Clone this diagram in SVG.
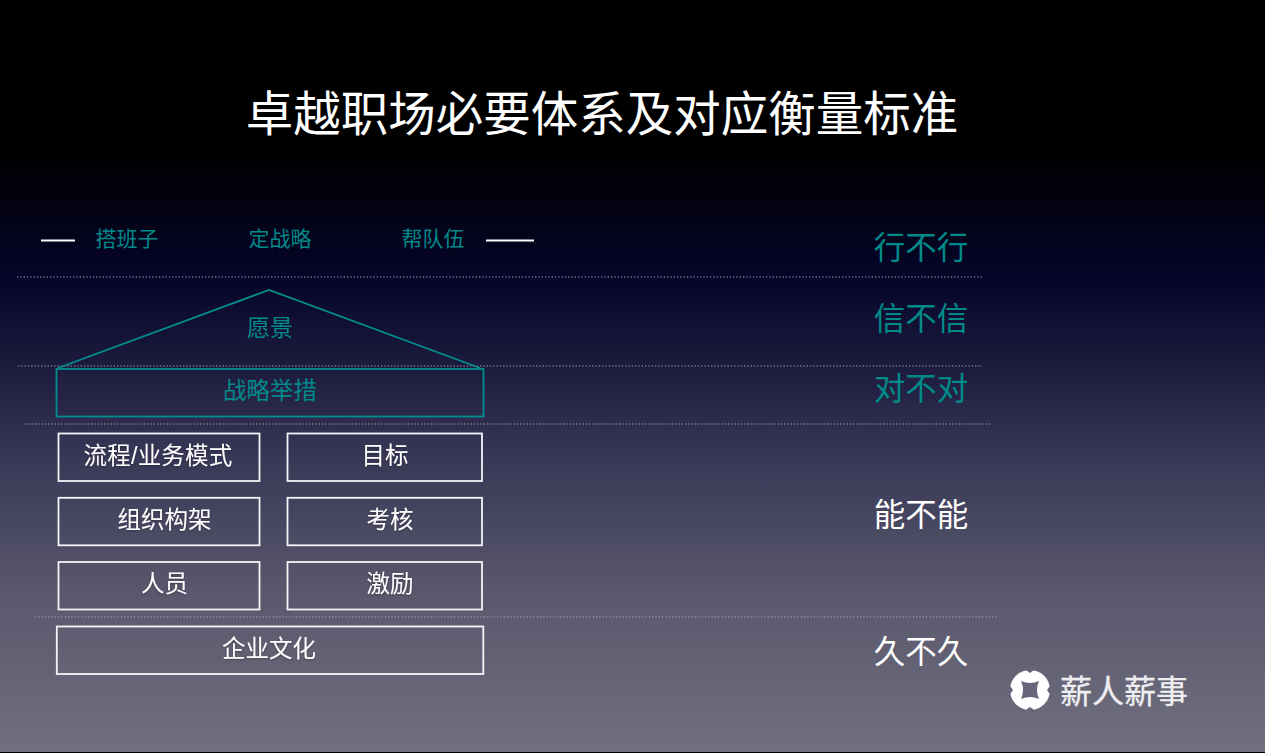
<svg xmlns="http://www.w3.org/2000/svg" width="1265" height="753" viewBox="0 0 1265 753">
<defs>
<linearGradient id="bg" x1="0" y1="0" x2="0" y2="1">
<stop offset="0" stop-color="#000000"/><stop offset="0.2" stop-color="#000000"/><stop offset="0.37" stop-color="#05052a"/><stop offset="0.5" stop-color="#1f1e40"/><stop offset="0.6" stop-color="#373656"/><stop offset="0.78" stop-color="#58576c"/><stop offset="1" stop-color="#71707f"/>
</linearGradient>
<filter id="sh" x="-10%" y="-10%" width="120%" height="130%"><feDropShadow dx="0" dy="1" stdDeviation="1" flood-color="#000" flood-opacity="0.3"/></filter>
</defs>
<style>
text{font-family:"Liberation Sans","Noto Sans CJK SC",sans-serif;text-anchor:middle}
.t{fill:#008a8a;font-size:21px}
.w{fill:#ffffff;font-size:23.500px;filter:url(#sh)}
.r{font-size:31.500px}
.box{fill:none;stroke:#f4f4f6;stroke-width:1.800}
.teal{fill:none;stroke:#028f8f;stroke-width:1.800}
.dot{stroke:#a9a9b2;stroke-width:1;stroke-dasharray:1.300 2;fill:none}
</style>
<rect id="background" width="1265" height="753" fill="url(#bg)"/>
<rect x="0" y="752" width="1265" height="1" fill="#000"/>
<text id="title" x="602" y="131" fill="#fff" style="font-size:47.500px">卓越职场必要体系及对应衡量标准</text>
<g id="connectors">
<path class="dot" d="M17 277H982"/><path class="dot" d="M18 366H982"/><path class="dot" d="M25 424H990"/><path class="dot" d="M35 617H998"/>
<path d="M41 240.500H75M486 240.500H534" stroke="#fff" stroke-width="2" fill="none"/>
</g>
<g id="top-labels">
<text class="t" x="127" y="245.500" style="font-size:21px">搭班子</text><text class="t" x="280" y="245.500" style="font-size:21px">定战略</text><text class="t" x="433" y="245.500" style="font-size:21px">帮队伍</text>
</g>
<g id="vision"><path class="teal" stroke-width="1.500" d="M58 368L269 290L480 368"/><text class="t" x="270" y="336" style="font-size:23px">愿景</text></g>
<g id="strategy"><rect class="teal" x="56.500" y="369" width="427" height="47.500"/><text class="t" x="270" y="398.500" style="font-size:23.500px">战略举措</text></g>
<g id="n1"><rect class="box" x="58.500" y="433.500" width="201" height="47.500"/><text class="w" x="158" y="463.500" style="letter-spacing:0.200px">流程/业务模式</text></g>
<g id="n2"><rect class="box" x="287.500" y="433.500" width="194.500" height="47.500"/><text class="w" x="385" y="463.500">目标</text></g>
<g id="n3"><rect class="box" x="58.500" y="497.800" width="201" height="47.500"/><text class="w" x="164.500" y="527.500">组织构架</text></g>
<g id="n4"><rect class="box" x="287.500" y="497.800" width="194.500" height="47.500"/><text class="w" x="390" y="527.500">考核</text></g>
<g id="n5"><rect class="box" x="58.500" y="562" width="201" height="47.500"/><text class="w" x="164.500" y="591.500">人员</text></g>
<g id="n6"><rect class="box" x="287.500" y="562" width="194.500" height="47.500"/><text class="w" x="390" y="591.500">激励</text></g>
<g id="n7"><rect class="box" x="56.800" y="626.500" width="426.500" height="47.500"/><text class="w" x="269" y="656.500">企业文化</text></g>
<g id="right-labels">
<text class="t r" x="921" y="259">行不行</text><text class="t r" x="921" y="330">信不信</text><text class="t r" x="921" y="400">对不对</text>
<text class="r" fill="#fff" x="921" y="526">能不能</text><text class="r" fill="#fff" x="921" y="663">久不久</text>
</g>
<g id="logo">
<circle cx="1030" cy="690" r="20" fill="#fff"/>
<path d="M1021 681Q1030 685 1039 681Q1035 690 1039 699Q1030 695 1021 699Q1025 690 1021 681Z" fill="#66657a"/>
<path d="M1030 673l-7-5h14zM1030 707l-7 5h14zM1013 690l-5-7v14zM1047 690l5-7v14z" fill="#66657a"/>
<text x="1124" y="703" fill="#eeeef1" style="font-size:32px;stroke:#eeeef1;stroke-width:0.300">薪人薪事</text>
</g>
</svg>
